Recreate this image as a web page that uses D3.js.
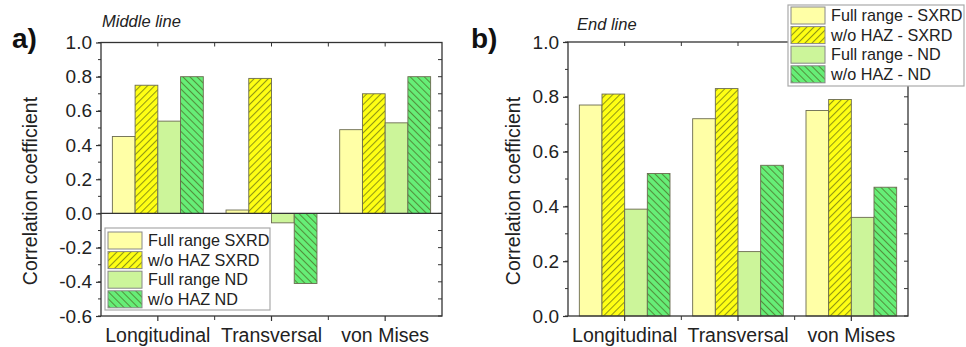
<!DOCTYPE html>
<html>
<head>
<meta charset="utf-8">
<script src="https://cdn.jsdelivr.net/npm/d3@7"></script>
<style>
  body { margin: 0; background: #fff; }
  svg { display: block; font-family: "Liberation Sans", Arial, sans-serif; }
</style>
</head>
<body>
<div class="chart"></div>
<script>
// data
const categories = ["Longitudinal", "Transversal", "von Mises"];
const seriesKeys = ["fullSXRD", "wohazSXRD", "fullND", "wohazND"];

const middleFullSXRD = [0.45, 0.02, 0.49];
const middleWohazSXRD = [0.75, 0.79, 0.70];
const middleFullND = [0.54, -0.055, 0.53];
const middleWohazND = [0.80, -0.41, 0.80];

const endFullSXRD = [0.77, 0.72, 0.75];
const endWohazSXRD = [0.81, 0.83, 0.79];
const endFullND = [0.39, 0.235, 0.36];
const endWohazND = [0.52, 0.55, 0.47];

const legendA = ["Full range SXRD", "w/o HAZ SXRD", "Full range ND", "w/o HAZ ND"];
const legendB = ["Full range - SXRD", "w/o HAZ - SXRD", "Full range - ND", "w/o HAZ - ND"];

const ticksA = [-0.6, -0.4, -0.2, 0.0, 0.2, 0.4, 0.6, 0.8, 1.0];
const ticksB = [0.0, 0.2, 0.4, 0.6, 0.8, 1.0];

// fills per series (url() for the hatched ones)
const fills = {
  fullSXRD: "#ffffa6",
  wohazSXRD: "url(#hatchYellow)",
  fullND: "#ccf59a",
  wohazND: "url(#hatchGreen)"
};

const svg = d3.select(".chart").append("svg")
  .attr("width", 966)
  .attr("height", 347);

// hatch patterns
const defs = svg.append("defs");
function makeHatch(id, bg, angle) {
  const p = defs.append("pattern")
    .attr("id", id)
    .attr("patternUnits", "userSpaceOnUse")
    .attr("width", 5)
    .attr("height", 5)
    .attr("patternTransform", `rotate(${angle})`);
  p.append("rect").attr("width", 5).attr("height", 5).attr("fill", bg);
  p.append("line")
    .attr("x1", 0.5).attr("y1", 0).attr("x2", 0.5).attr("y2", 5)
    .attr("stroke", "rgba(70,80,20,0.6)")
    .attr("stroke-width", 1.1);
}
makeHatch("hatchYellow", "#ffff14", 45);
makeHatch("hatchGreen", "#66ee77", -45);

function drawPanel(opt) {
  const g = svg.append("g");
  const x = d3.scaleBand().domain(categories)
    .range([opt.left, opt.right]).paddingInner(0.2).paddingOuter(0.1);
  const xs = d3.scaleBand().domain(seriesKeys).range([0, x.bandwidth()]);
  const y = d3.scaleLinear().domain(opt.domain).range([opt.bottom, opt.top]);

  const rows = categories.map((c, i) => {
    const r = { cat: c };
    seriesKeys.forEach((k, j) => r[k] = opt.values[j][i]);
    return r;
  });

  // bars
  g.selectAll("g.grp").data(rows).enter().append("g")
    .attr("class", "grp")
    .attr("transform", d => `translate(${x(d.cat)},0)`)
    .selectAll("rect")
    .data(d => seriesKeys.map(k => ({ key: k, value: d[k] })))
    .enter().append("rect")
    .attr("x", d => xs(d.key))
    .attr("width", xs.bandwidth())
    .attr("y", d => y(Math.max(0, d.value)))
    .attr("height", d => Math.abs(y(d.value) - y(0)))
    .attr("fill", d => fills[d.key])
    .attr("stroke", "#6b6b50")
    .attr("stroke-width", 0.9);

  // zero line
  if (opt.domain[0] < 0) {
    g.append("line")
      .attr("x1", opt.left).attr("x2", opt.right)
      .attr("y1", y(0)).attr("y2", y(0))
      .attr("stroke", "#333").attr("stroke-width", 1.2);
  }

  const axisColor = "#333";
  // minor ticks every 0.1
  const minor = d3.range(Math.round(opt.domain[0] * 10), Math.round(opt.domain[1] * 10) + 1).map(v => v / 10);

  // left axis
  const left = g.append("g").attr("transform", `translate(${opt.left},0)`)
    .call(d3.axisLeft(y).tickValues(opt.ticks).tickSize(5).tickPadding(4));
  left.select(".domain").remove();
  left.selectAll("line").attr("stroke", axisColor).attr("stroke-width", 1.2);
  left.selectAll("text")
    .attr("font-size", 19).attr("fill", "#222")
    .attr("font-family", "'Liberation Sans', Arial, sans-serif")
    .text(d => d3.format(".1f")(d).replace("−", "-"));

  g.append("g").selectAll("line").data(minor).enter().append("line")
    .attr("x1", opt.left - 3).attr("x2", opt.left)
    .attr("y1", d => y(d)).attr("y2", d => y(d))
    .attr("stroke", axisColor).attr("stroke-width", 1);

  // right axis inner ticks
  g.append("g").selectAll("line").data(minor).enter().append("line")
    .attr("x1", opt.right - 4).attr("x2", opt.right)
    .attr("y1", d => y(d)).attr("y2", d => y(d))
    .attr("stroke", axisColor).attr("stroke-width", 1);

  // bottom axis
  const bottom = g.append("g").attr("transform", `translate(0,${opt.bottom})`)
    .call(d3.axisBottom(x).tickSize(5).tickPadding(7));
  bottom.select(".domain").remove();
  bottom.selectAll("line").attr("stroke", axisColor).attr("stroke-width", 1.2);
  bottom.selectAll("text")
    .attr("font-size", 19.5).attr("fill", "#222")
    .attr("font-family", "'Liberation Sans', Arial, sans-serif");

  const bounds = categories.slice(1).map(c => x(c) - x.step() * x.paddingInner() / 2);
  g.append("g").selectAll("line").data(bounds).enter().append("line")
    .attr("x1", d => d).attr("x2", d => d)
    .attr("y1", opt.bottom).attr("y2", opt.bottom + 4)
    .attr("stroke", axisColor).attr("stroke-width", 1);

  // top inner ticks
  const topTicks = categories.map(c => x(c) + x.bandwidth() / 2).concat(bounds);
  g.append("g").selectAll("line").data(topTicks).enter().append("line")
    .attr("x1", d => d).attr("x2", d => d)
    .attr("y1", opt.top).attr("y2", opt.top + 4)
    .attr("stroke", axisColor).attr("stroke-width", 1);

  // frame
  g.append("rect")
    .attr("x", opt.left).attr("y", opt.top)
    .attr("width", opt.right - opt.left).attr("height", opt.bottom - opt.top)
    .attr("fill", "none").attr("stroke", axisColor).attr("stroke-width", 1.3);

  // y title
  g.append("text")
    .attr("transform", `translate(${opt.titleX},${opt.titleY}) rotate(-90)`)
    .attr("text-anchor", "middle")
    .attr("font-size", 19.5).attr("fill", "#222")
    .text("Correlation coefficient");

  // panel letter and subtitle
  g.append("text").attr("x", opt.letterX).attr("y", 48)
    .attr("font-size", 28).attr("font-weight", "bold").attr("fill", "#111")
    .text(opt.letter);
  g.append("text").attr("x", opt.subX).attr("y", opt.subY)
    .attr("font-size", 16.5).attr("font-style", "italic").attr("fill", "#222")
    .text(opt.sub);

  // legend
  const L = opt.legend;
  const lg = g.append("g");
  lg.append("rect")
    .attr("x", L.x).attr("y", L.y).attr("width", L.w).attr("height", L.h)
    .attr("fill", "#fff").attr("stroke", "#aaa").attr("stroke-width", 1.2);
  const item = lg.selectAll("g.item").data(seriesKeys).enter().append("g")
    .attr("class", "item")
    .attr("transform", (d, i) => `translate(${L.x + 3},${L.y0 + i * L.step})`);
  item.append("rect")
    .attr("x", 0).attr("y", -8.5).attr("width", 34).attr("height", 17)
    .attr("fill", d => fills[d]).attr("stroke", "#888").attr("stroke-width", 1);
  item.append("text")
    .attr("x", 40).attr("y", 0).attr("dy", "0.35em")
    .attr("font-size", 16.2).attr("fill", "#222")
    .text((d, i) => L.labels[i]);
}

drawPanel({
  left: 101, right: 442, top: 42.5, bottom: 316,
  domain: [-0.6, 1.0], ticks: ticksA,
  values: [middleFullSXRD, middleWohazSXRD, middleFullND, middleWohazND],
  titleX: 36.5, titleY: 191,
  letter: "a)", letterX: 12, sub: "Middle line", subX: 102, subY: 27,
  legend: { x: 105, y: 228, w: 165, h: 82, y0: 240.5, step: 19.6, labels: legendA }
});

drawPanel({
  left: 568, right: 908, top: 42, bottom: 316,
  domain: [0, 1.0], ticks: ticksB,
  values: [endFullSXRD, endWohazSXRD, endFullND, endWohazND],
  titleX: 520, titleY: 191,
  letter: "b)", letterX: 471, sub: "End line", subX: 577, subY: 30,
  legend: { x: 788, y: 5, w: 176, h: 81, y0: 15.5, step: 19.6, labels: legendB }
});
</script>
</body>
</html>
